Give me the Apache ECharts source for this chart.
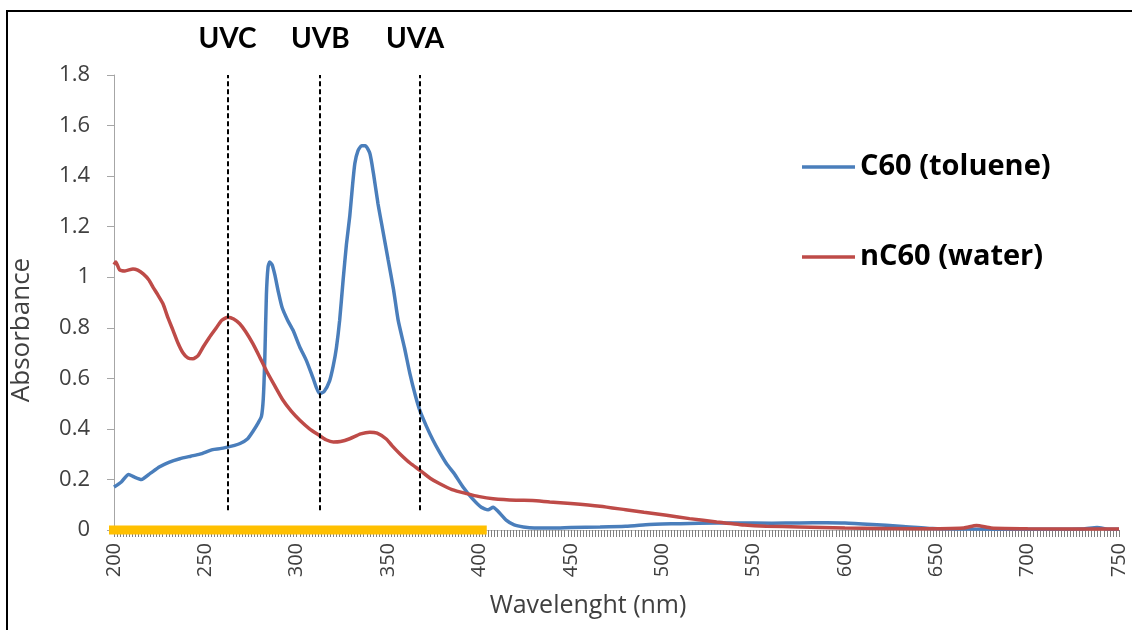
<!DOCTYPE html>
<html>
<head>
<meta charset="utf-8">
<script src="https://cdn.jsdelivr.net/npm/echarts@6/dist/echarts.min.js"></script>
<style>
  html, body { margin: 0; padding: 0; background: #fff; }
  #chart { width: 1132px; height: 630px; }
</style>
</head>
<body>
<div id="chart"></div>
<script>
var chart = echarts.init(document.getElementById('chart'));

// C60 in toluene
var c60Wave = [200, 204, 208, 211, 215, 220, 225, 230, 236, 242, 247, 254, 258, 262, 266, 269, 273, 276, 279, 280.7,
  281.7, 282.5, 283.4, 284.3, 285.2, 286.5, 288, 290, 292, 295, 298, 301.6, 305.3, 309, 312.4, 315, 318, 320, 321.7, 323.5,
  325.4, 327.2, 329, 330.5, 331.8, 333.5, 335.5, 337.5, 340, 342, 344.5, 347, 350, 353, 355.5, 359, 361.9, 365, 367.5, 371,
  374.6, 378, 382, 386, 391, 396, 401, 404.7, 407.5, 410, 414.8, 419, 424, 430, 440, 450, 466, 480, 493, 500,
  510, 520, 540, 560, 575, 590, 600, 615, 630, 648, 665, 700, 730, 738, 745, 750];
var c60Abs = [0.17, 0.19, 0.22, 0.21, 0.2, 0.225, 0.25, 0.268, 0.282, 0.292, 0.3, 0.318, 0.322, 0.328, 0.335, 0.342, 0.36, 0.39, 0.425, 0.45,
  0.52, 0.67, 0.93, 1.04, 1.06, 1.05, 1.01, 0.94, 0.88, 0.83, 0.79, 0.725, 0.67, 0.6, 0.54, 0.548, 0.59, 0.65, 0.72, 0.83,
  0.99, 1.13, 1.24, 1.36, 1.45, 1.5, 1.52, 1.52, 1.49, 1.41, 1.29, 1.19, 1.07, 0.95, 0.83, 0.72, 0.62, 0.53, 0.47, 0.41,
  0.355, 0.31, 0.262, 0.225, 0.17, 0.125, 0.09, 0.08, 0.09, 0.075, 0.038, 0.02, 0.012, 0.008, 0.008, 0.01, 0.012, 0.015, 0.022, 0.024,
  0.025, 0.027, 0.028, 0.027, 0.028, 0.029, 0.028, 0.022, 0.015, 0.006, 0.004, 0.003, 0.004, 0.01, 0.003, 0.003];

// nC60 in water
var nc60Wave = [200, 201, 203, 206, 210.4, 213, 216, 219, 221.4, 224, 226.8, 229.5, 232.3, 235, 237.8, 240.5, 243.2, 246, 248.7, 252,
  256, 259, 262.4, 265.5, 268.8, 272, 276, 280, 283.4, 288, 292.5, 297, 301.7, 307, 312.4, 316, 320, 324, 329, 335,
  340, 344, 349, 352, 356.4, 362, 367.5, 373, 378.3, 385, 393, 400, 407.5, 420, 429, 438.5, 450, 466, 480, 490,
  502.4, 515, 529.8, 545, 557, 575, 600, 640, 665, 672, 680, 700, 750];
var nc60Abs = [1.05, 1.06, 1.03, 1.025, 1.033, 1.028, 1.013, 0.99, 0.96, 0.93, 0.895, 0.84, 0.79, 0.74, 0.7, 0.68, 0.677, 0.69, 0.723, 0.76,
  0.8, 0.83, 0.842, 0.835, 0.816, 0.785, 0.737, 0.68, 0.63, 0.57, 0.513, 0.47, 0.434, 0.4, 0.374, 0.357, 0.348, 0.35, 0.361, 0.38,
  0.387, 0.383, 0.36, 0.335, 0.302, 0.265, 0.236, 0.205, 0.183, 0.16, 0.144, 0.132, 0.124, 0.118, 0.117, 0.111, 0.105, 0.094, 0.08, 0.07,
  0.058, 0.045, 0.032, 0.02, 0.015, 0.012, 0.008, 0.005, 0.008, 0.018, 0.008, 0.005, 0.004];

// UV band boundaries (dashed lines)
var uvNames = ['UVC', 'UVB', 'UVA'];
var uvWave = [262.1, 312.4, 367.5];
var uvBottom = 0.078;

// yellow band on the axis
var bandWave = [196, 404];

function zip(xs, ys) {
  return xs.map(function (x, i) { return [x, ys[i]]; });
}

var font = '"Open Sans", Lato, sans-serif';
var headFont = 'Lato, "Open Sans", sans-serif';

var uvLines = uvNames.map(function (n, i) {
  return [{ name: n, coord: [uvWave[i], uvBottom] }, { coord: [uvWave[i], 1.8] }];
});
uvLines[1][0].label = { offset: [1, 0] };
uvLines[2][0].label = { offset: [-5, 0] };

option = {
  animation: false,
  grid: { left: 114, right: 13, top: 75, bottom: 100 },
  legend: {
    orient: 'vertical',
    left: 797,
    top: 145,
    icon: 'rect',
    itemWidth: 53,
    itemHeight: 3.5,
    itemGap: 56,
    selectedMode: false,
    data: ['C60 (toluene)', 'nC60 (water)'],
    textStyle: { color: '#000', fontSize: 29, fontWeight: 'bold', fontFamily: font, lineHeight: 34 }
  },
  xAxis: {
    type: 'value',
    min: 200,
    max: 750,
    interval: 50,
    splitLine: { show: false },
    axisLine: { lineStyle: { color: '#bfbfbf' } },
    axisTick: { length: 7, lineStyle: { color: '#808080' } },
    minorTick: { show: true, splitNumber: 30, length: 7, lineStyle: { color: '#808080' } },
    axisLabel: { rotate: 90, margin: 13, fontSize: 20, color: '#404040', fontFamily: font }
  },
  yAxis: {
    type: 'value',
    min: 0,
    max: 1.8,
    interval: 0.2,
    splitLine: { show: false },
    axisLine: { show: true, lineStyle: { color: '#a6a6a6' } },
    axisTick: { show: true, length: 7, lineStyle: { color: '#a6a6a6' } },
    axisLabel: { margin: 24, fontSize: 22, color: '#404040', fontFamily: font }
  },
  graphic: [
    {
      type: 'rect', silent: true,
      shape: { x: 7, y: 11, width: 1300, height: 800 },
      style: { fill: null, stroke: '#000', lineWidth: 2 }
    },
    {
      type: 'text', x: 588, y: 606, silent: true,
      style: { text: 'Wavelenght (nm)', fill: '#404040', font: '25px ' + font, textAlign: 'center', textVerticalAlign: 'middle' }
    },
    {
      type: 'text', x: 22, y: 330, rotation: Math.PI / 2, silent: true,
      style: { text: 'Absorbance', fill: '#404040', font: '26px ' + font, textAlign: 'center', textVerticalAlign: 'middle' }
    }
  ],
  series: [
    {
      name: 'band',
      type: 'line',
      clip: false,
      symbol: 'none',
      silent: true,
      z: 3,
      data: bandWave.map(function (w) { return [w, 0]; }),
      lineStyle: { color: '#FFC000', width: 9, cap: 'butt' },
      markLine: {
        silent: true,
        symbol: 'none',
        z: 6,
        lineStyle: { color: '#000', width: 2, type: [5, 3] },
        label: {
          show: true,
          position: 'end',
          distance: 22,
          formatter: '{b}',
          color: '#000',
          fontSize: 28,
          fontWeight: 'bold',
          fontFamily: headFont
        },
        data: uvLines
      }
    },
    {
      name: 'C60 (toluene)',
      type: 'line',
      symbol: 'none',
      smooth: 0.2,
      z: 4,
      color: '#4A7EBB',
      lineStyle: { color: '#4A7EBB', width: 3.5 },
      data: zip(c60Wave, c60Abs)
    },
    {
      name: 'nC60 (water)',
      type: 'line',
      symbol: 'none',
      smooth: 0.2,
      z: 4,
      color: '#BE4B48',
      lineStyle: { color: '#BE4B48', width: 3.5 },
      data: zip(nc60Wave, nc60Abs)
    }
  ]
};
chart.setOption(option);
</script>
</body>
</html>
